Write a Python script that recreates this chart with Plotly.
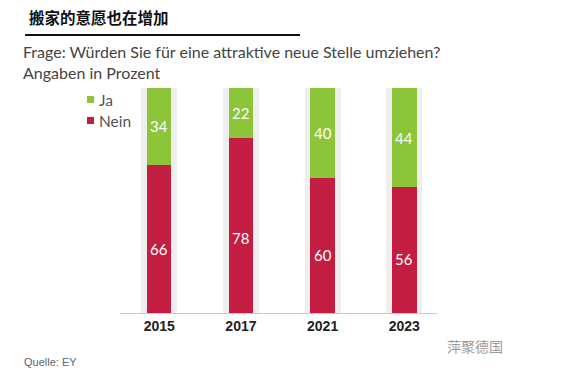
import plotly.graph_objects as go

years = ["2015", "2017", "2021", "2023"]
ja = [34, 22, 40, 44]
nein = [66, 78, 60, 56]
total = [100, 100, 100, 100]

GREEN = "#8cc43a"
RED = "#c41d42"
BG = "#efefef"

W, H = 567, 372
L, R, T, B = 120, 130, 88, 59
pw, ph = W - L - R, H - T - B

def px_x(px):
    return (px - L) / pw

def px_y(py):
    return (H - B - py) / ph

idx = list(range(len(years)))

fig = go.Figure()
fig.add_trace(go.Bar(x=idx, y=total, width=0.44, marker=dict(color=BG, line=dict(width=0)),
                     showlegend=False, hoverinfo="skip"))
fig.add_trace(go.Bar(x=idx, y=ja, base=nein, width=0.30, name="Ja",
                     marker=dict(color=GREEN, line=dict(width=0)), showlegend=False))
fig.add_trace(go.Bar(x=idx, y=nein, width=0.30, name="Nein",
                     marker=dict(color=RED, line=dict(width=0)), showlegend=False))

lab_font = dict(family="Lato, Noto Sans, sans-serif", size=15, color="white")
for i, j, n in zip(idx, ja, nein):
    fig.add_annotation(x=i, y=n + j / 2, text=str(j), showarrow=False, font=lab_font)
    fig.add_annotation(x=i, y=n * 0.43, text=str(n), showarrow=False, font=lab_font)

# Legend (manual)
leg_font = dict(family="Lato, Noto Sans, sans-serif", size=15.5, color="#555")
for k, (name, col) in enumerate([("Ja", GREEN), ("Nein", RED)]):
    cy = 99.5 + 21 * k
    fig.add_shape(type="rect", xref="paper", yref="paper", x0=px_x(87), x1=px_x(94),
                  y0=px_y(cy + 3.5), y1=px_y(cy - 3.5), fillcolor=col, line=dict(width=0))
    fig.add_annotation(xref="paper", yref="paper", x=px_x(97), y=px_y(cy), xanchor="left", yanchor="middle",
                       text=name, showarrow=False, font=leg_font)

fig.add_annotation(xref="paper", yref="paper", x=px_x(27), y=px_y(17), xanchor="left", yanchor="middle",
                   text="<b>搬家的意愿也在增加</b>", showarrow=False,
                   font=dict(family="Noto Sans CJK SC", size=15.5, color="#111"))
fig.add_shape(type="line", xref="paper", yref="paper", x0=px_x(25), x1=px_x(300), y0=px_y(35), y1=px_y(35),
              line=dict(color="#111", width=2))
fig.add_annotation(xref="paper", yref="paper", x=px_x(21), y=px_y(62), xanchor="left", yanchor="middle",
                   text="Frage: Würden Sie für eine attraktive neue Stelle umziehen?<br>Angaben in Prozent",
                   showarrow=False, align="left",
                   font=dict(family="Lato, Noto Sans, sans-serif", size=16, color="#444"))
fig.add_annotation(xref="paper", yref="paper", x=px_x(22), y=px_y(362), xanchor="left", yanchor="middle",
                   text="Quelle: EY", showarrow=False,
                   font=dict(family="Liberation Sans, Arial, sans-serif", size=11, color="#666"))
fig.add_annotation(xref="paper", yref="paper", x=px_x(505), y=px_y(346), xanchor="right", yanchor="middle",
                   text="萍聚德国", showarrow=False,
                   font=dict(family="Noto Sans CJK SC", size=14, color="#9a9a9a"))

fig.update_layout(
    width=W, height=H,
    margin=dict(l=L, r=R, t=T, b=B),
    barmode="overlay",
    plot_bgcolor="white", paper_bgcolor="white",
    bargap=0,
    showlegend=False,
    xaxis=dict(range=[-0.48, 3.40], showgrid=False, showline=True, linecolor="#c8c8c8", linewidth=1,
               zeroline=False, tickmode="array", tickvals=idx,
               ticktext=["<b>" + y + "</b>" for y in years], ticks="",
               tickfont=dict(family="Liberation Sans, Arial, sans-serif", size=14, color="#222"),
               fixedrange=True),
    yaxis=dict(range=[0, 100], showgrid=False, showticklabels=False, zeroline=False, fixedrange=True),
)

fig.write_html("out.html", config={"displayModeBar": False},
               post_script="document.body.style.margin='0';")
